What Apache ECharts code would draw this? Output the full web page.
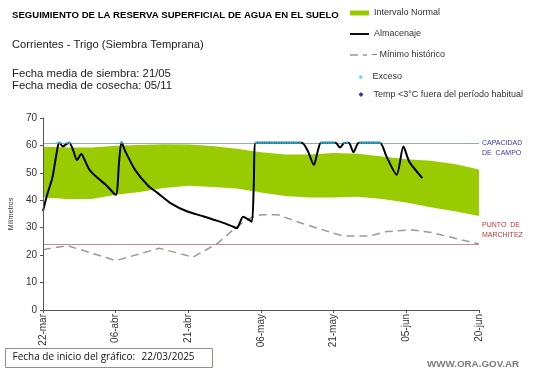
<!DOCTYPE html>
<html>
<head>
<meta charset="utf-8">
<script src="https://cdn.jsdelivr.net/npm/echarts@6/dist/echarts.min.js"></script>
<style>
html,body{margin:0;padding:0;background:#fff;}
#c{width:541px;height:368px;}
</style>
</head>
<body>
<div id="c"></div>
<script>
// ---- Data (x = days since 22-mar) ----
const tickLabels = ['22-mar','06-abr','21-abr','06-may','21-may','05-jun','20-jun'];

const normalDays = [0,5,10,15,20,25,30,35,40,45,50,55,60,65,70,75,80,85,90];
const normalLow  = [41,40.5,40.5,42,43,44.5,45.3,44.8,44.3,42.8,41.6,41,41,41.3,40.5,39.2,37.5,36,34.3];
const normalHigh = [59.5,59.2,59.2,59.9,60.2,60.4,60.3,59.8,58.8,57.5,56.7,56.7,57.2,57,56,55,54.4,53.2,51.2];

const almDays = [0,0.85,1.9,2.5,3.1,3.4,4.1,4.9,5.4,6.2,7,7.9,8.6,9.6,11.3,13,15,15.7,16.2,17,19,21.7,23.7,26.4,29.8,33.2,36.5,39.2,40,41.3,42.3,43.1,43.5,43.9,53.4,54.7,55.9,56.7,57.4,60.4,61.3,62.1,63.1,64.1,65.2,69.5,70.9,73,74.4,75.6,78.3];
const almVals = [36.1,42,48,54,60,61,59.6,60.6,61,58.4,54.7,56.9,54.7,51.1,48.1,45.6,42,54,61.2,57.8,51.1,45.3,42.6,38.9,35.9,34.1,32.2,30.4,29.8,34,33.1,32.2,45,61,61,57.8,52.9,57.8,61,61,59.2,60.8,61,57.5,61,61,56,49.3,59.6,54.1,48.1];

const minDays = [0,5,15,24,31,36,40,43,45,48.5,53.4,60,62,67.5,71,76.3,80.3,87,90];
const minVals = [22,23.5,18,22.5,19.3,24.3,30.4,33.7,34.7,34.7,31.6,28,27,27,28.6,29.2,28.2,25.3,24.1];

const excessDays = [3,3.5,5,5.5,16.2,44,44.5,45,45.5,46,46.5,47,47.5,48,48.5,49,49.5,50,50.5,51,51.5,52,52.5,53,57.5,58,58.5,59,59.5,60,62.2,62.8,65.5,66,66.5,67,67.5,68,68.5,69,69.5];
const excessVals = [61,61,61,61,61,61,61,61,61,61,61,61,61,61,61,61,61,61,61,61,61,61,61,61,61,61,61,61,61,61,61,61,61,61,61,61,61,61,61,61,61];

const tempDays = [];
const tempVals = [];

const capacidadCampo = 60.7;
const puntoMarchitez = 24;

// ---- build ----
const zip = (a, b) => a.map((d, i) => [d, b[i]]);
const bandData = normalDays.map((d, i) => [d, normalLow[i], normalHigh[i]]);

const FONT = 'Liberation Sans, Arial, sans-serif';
const legendBase = {
  orient: 'vertical', left: 350, itemGap: 0, padding: 0, selectedMode: false,
  textStyle: { fontSize: 9, color: '#333', fontFamily: FONT }
};

const chart = echarts.init(document.getElementById('c'), null, { renderer: 'canvas' });
chart.setOption({
  animation: false,
  backgroundColor: '#fff',
  textStyle: { fontFamily: FONT },
  title: [
    { text: 'SEGUIMIENTO DE LA RESERVA SUPERFICIAL DE AGUA EN EL SUELO', left: 12, top: 10.5, padding: 0,
      textStyle: { fontSize: 9.6, fontWeight: 'bold', color: '#000', fontFamily: FONT } },
    { text: 'Corrientes - Trigo (Siembra Temprana)', left: 12, top: 39, padding: 0,
      textStyle: { fontSize: 11.2, fontWeight: 'normal', color: '#222', fontFamily: FONT } },
    { text: 'Fecha media de siembra: 21/05\nFecha media de cosecha: 05/11', left: 12, top: 68, padding: 0,
      textStyle: { fontSize: 11.3, fontWeight: 'normal', color: '#222', lineHeight: 12, fontFamily: FONT } },
    { text: 'WWW.ORA.GOV.AR', left: 427, top: 359, padding: 0,
      textStyle: { fontSize: 9.8, fontWeight: 'bold', color: '#7a7a7a', fontFamily: FONT } }
  ],
  legend: [
    Object.assign({}, legendBase, { top: 8.5, itemWidth: 19, itemHeight: 5,
      data: [{ name: 'Intervalo Normal', icon: 'rect', itemStyle: { color: '#99cc00' } }] }),
    Object.assign({}, legendBase, { top: 29.5, itemWidth: 19, itemHeight: 8,
      data: [{ name: 'Almacenaje', icon: 'path://M0,0H20V2H0Z', itemStyle: { color: '#000' } }] }),
    Object.assign({}, legendBase, { top: 50.5, itemWidth: 17, itemHeight: 8,
      formatter: '– {name}',
      data: [{ name: 'Mínimo histórico', icon: 'path://M0,0H8V1.6H0Z M13,0H17V1.6H13Z', itemStyle: { color: '#999' } }] }),
    Object.assign({}, legendBase, { top: 72.5, left: 359, itemWidth: 3.5, itemHeight: 3.5,
      formatter: '  {name}',
      data: [{ name: 'Exceso', icon: 'circle', itemStyle: { color: '#33ccee' } }] }),
    Object.assign({}, legendBase, { top: 90, left: 358.5, itemWidth: 5, itemHeight: 5,
      formatter: '  {name}',
      data: [{ name: 'Temp <3°C fuera del período habitual', icon: 'diamond', itemStyle: { color: '#000099' } }] })
  ],
  grid: { left: 33, right: 62, top: 118, bottom: 58, containLabel: false },
  xAxis: {
    type: 'value', min: 0, max: 90, interval: 15, z: 5,
    axisLine: { show: true, lineStyle: { color: '#555', width: 1 } },
    axisTick: { show: true, length: 3, lineStyle: { color: '#555' } },
    splitLine: { show: false },
    axisLabel: {
      rotate: 90, fontSize: 10, color: '#333', margin: 4, fontFamily: FONT,
      formatter: (v) => tickLabels[Math.round(v / 15)] || ''
    }
  },
  yAxis: {
    type: 'value', min: 0, max: 70, interval: 10, z: 5,
    name: 'Milímetros', nameLocation: 'middle', nameGap: 27, nameRotate: 90,
    nameTextStyle: { fontSize: 7, color: '#333', fontFamily: FONT },
    axisLine: { show: true, lineStyle: { color: '#555', width: 1 } },
    axisTick: { show: true, length: 3, lineStyle: { color: '#555' } },
    splitLine: { show: false },
    axisLabel: { fontSize: 10, color: '#333', margin: 6, fontFamily: FONT }
  },
  series: [
    {
      name: 'Intervalo Normal', type: 'custom', data: bandData,
      encode: { x: 0, y: [1, 2] }, itemStyle: { color: '#99cc00' }, z: 1, silent: true,
      renderItem: function (params, api) {
        if (params.dataIndex !== 0) return null;
        const pts = [];
        for (let i = 0; i < normalDays.length; i++) pts.push(api.coord([normalDays[i], normalHigh[i]]));
        for (let i = normalDays.length - 1; i >= 0; i--) pts.push(api.coord([normalDays[i], normalLow[i]]));
        return { type: 'polygon', shape: { points: pts }, style: { fill: '#99cc00' } };
      }
    },
    {
      name: 'Mínimo histórico', type: 'line', data: zip(minDays, minVals),
      symbol: 'none', itemStyle: { color: '#999' },
      lineStyle: { color: '#9a9a9a', width: 1.5, type: [8, 5] }, z: 3,
      markLine: {
        silent: true, symbol: 'none', z: 2,
        data: [
          { yAxis: capacidadCampo,
            lineStyle: { color: '#8fa6d6', width: 1.2, type: 'solid' },
            label: { position: 'end', distance: 3, formatter: '\nCAPACIDAD\nDE  CAMPO',
              color: '#3838b0', fontSize: 7, lineHeight: 9.5, fontFamily: FONT } },
          { yAxis: puntoMarchitez,
            lineStyle: { color: '#c09090', width: 1.2, type: 'solid' },
            label: { position: 'end', distance: 3, formatter: 'PUNTO  DE\nMARCHITEZ\n \n \n ',
              color: '#c03838', fontSize: 7, lineHeight: 9.5, fontFamily: FONT } }
        ]
      }
    },
    {
      name: 'Almacenaje', type: 'line', data: zip(almDays, almVals),
      symbol: 'none', smooth: 0.25, itemStyle: { color: '#000' },
      lineStyle: { color: '#000', width: 2 }, z: 4
    },
    {
      name: 'Exceso', type: 'scatter', data: zip(excessDays, excessVals),
      symbol: 'circle', symbolSize: 2.6, itemStyle: { color: '#33ccee' }, z: 5
    },
    {
      name: 'Temp <3°C fuera del período habitual', type: 'scatter', data: zip(tempDays, tempVals),
      symbol: 'diamond', symbolSize: 5, itemStyle: { color: '#000099' }, z: 5
    }
  ],
  graphic: [
    {
      type: 'group', left: 5, top: 348,
      children: [
        { type: 'rect', shape: { x: 0, y: 0, width: 207, height: 19 },
          style: { fill: '#fff', stroke: '#9a8a8a', lineWidth: 1 } },
        { type: 'text', x: 7, y: 4,
          style: { text: 'Fecha de inicio del gráfico:', fontSize: 10, fill: '#111', fontFamily: 'Open Sans, Noto Sans, sans-serif' } },
        { type: 'text', x: 136, y: 4,
          style: { text: '22/03/2025', fontSize: 10, fill: '#111', fontFamily: 'Open Sans, Noto Sans, sans-serif' } }
      ]
    }
  ]
});
</script>
</body>
</html>
